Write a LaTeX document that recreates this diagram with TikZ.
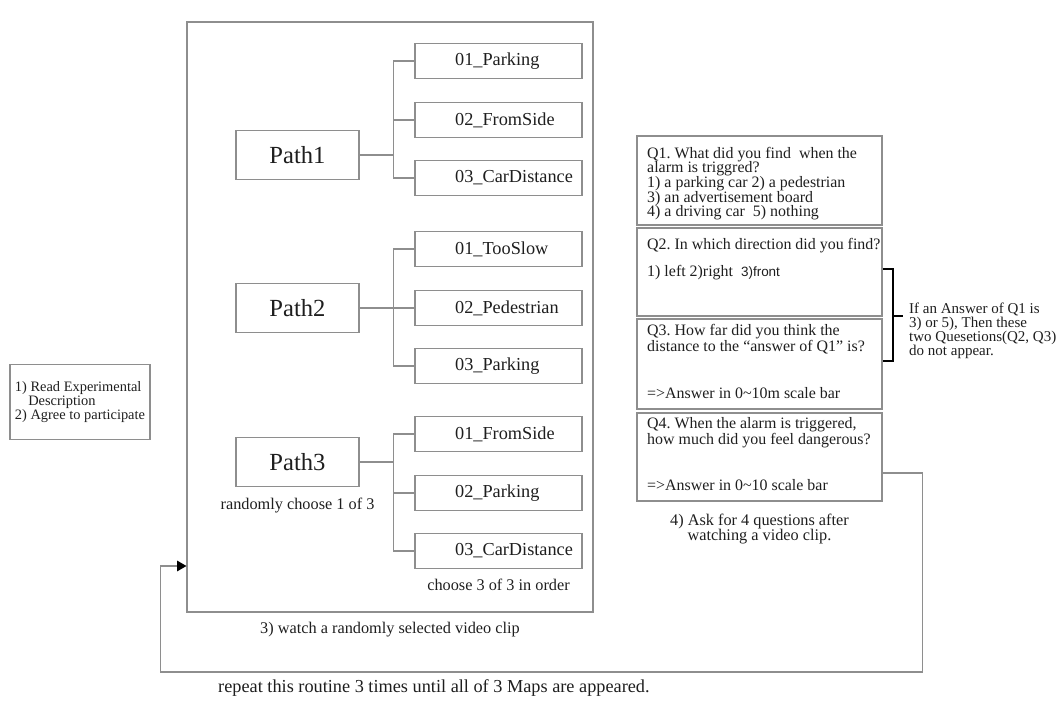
\documentclass[tikz,border=0pt]{standalone}
\usepackage{fontspec}
\setmainfont{Liberation Serif}
\setsansfont{Liberation Sans}
\usepackage{tikz}
\usetikzlibrary{positioning,arrows.meta}
\frenchspacing
\definecolor{boxline}{HTML}{8E8E8E}
\definecolor{ink}{HTML}{1E1E1E}
\newcommand{\cliplabel}[1]{\makebox[2.6cm][l]{#1}}
\tikzset{
  frame/.style={draw=boxline, line width=0.9pt, rectangle, text=ink},
  pathbox/.style={frame, minimum width=3.69cm, minimum height=1.47cm, font=\fontsize{21}{24}\selectfont},
  clipbox/.style={frame, minimum width=5.01cm, minimum height=1.05cm, font=\fontsize{15.6}{18}\selectfont},
  qbox/.style={frame, minimum width=7.35cm, inner sep=0pt},
  qtext/.style={anchor=north west, inner sep=0pt, align=left, text=ink, font=\fontsize{13.6}{12.4}\selectfont},
  caption/.style={inner sep=0pt, align=center, text=ink, font=\fontsize{13.9}{12.8}\selectfont},
  branch/.style={draw=boxline, line width=0.9pt},
  loopline/.style={draw=boxline, line width=1pt, -{Triangle[length=8pt, width=9pt, color=black]}}
}
\begin{document}
\begin{tikzpicture}[x=0.03cm, y=-0.03cm]
  \useasboundingbox (0,0) rectangle (1061,708);

  % step 1
  \node[frame, minimum width=4.2cm, minimum height=2.25cm, align=left, inner sep=0pt,
        font=\fontsize{12.3}{11.6}\selectfont] (intro) at (80,402)
        {1) Read Experimental\\\hspace*{0.4cm}Description\\2) Agree to participate};

  % step 3: video clips
  \node[frame, minimum width=12.18cm, minimum height=17.7cm] (clips) at (390,317) {};
  \node[pathbox] (p1) at (297.5,155) {Path1};
  \node[pathbox] (p2) at (297.5,308) {Path2};
  \node[pathbox] (p3) at (297.5,462) {Path3};

  \node[clipbox] (c11) at (498.5,61)  {\cliplabel{01\_Parking}};
  \node[clipbox] (c12) at (498.5,120) {\cliplabel{02\_FromSide}};
  \node[clipbox] (c13) at (498.5,178) {\cliplabel{03\_CarDistance}};
  \node[clipbox] (c21) at (498.5,249) {\cliplabel{01\_TooSlow}};
  \node[clipbox] (c22) at (498.5,308) {\cliplabel{02\_Pedestrian}};
  \node[clipbox] (c23) at (498.5,366) {\cliplabel{03\_Parking}};
  \node[clipbox] (c31) at (498.5,434) {\cliplabel{01\_FromSide}};
  \node[clipbox] (c32) at (498.5,493) {\cliplabel{02\_Parking}};
  \node[clipbox] (c33) at (498.5,551) {\cliplabel{03\_CarDistance}};

  \foreach \g in {1,2,3} {
    \draw[branch] (p\g.east) -- ++(34,0) coordinate (j\g);
    \draw[branch] (c\g1.west) -| (j\g) |- (c\g3.west);
    \draw[branch] (j\g |- c\g2.west) -- (c\g2.west);
  }

  \node[caption, below=0.32cm of p3] (pick) {randomly choose 1 of 3};
  \node[caption, below=0.3cm of c33] (order) {choose 3 of 3 in order};
  \node[caption, below=0.27cm of clips] (watch) {3) watch a randomly selected video clip};

  % step 4: questions
  \node[qbox, minimum height=2.67cm] (q1) at (759.5,180.5) {};
  \node[qbox, minimum height=2.64cm] (q2) at (759.5,272) {};
  \node[qbox, minimum height=2.7cm]  (q3) at (759.5,364) {};
  \node[qbox, minimum height=2.64cm] (q4) at (759.5,457) {};

  \node[qtext] (q1t) at (647,147) {Q1. What did you find\ \ when the\\alarm is triggred?\\1) a parking car 2) a pedestrian\\3) an advertisement board\\4) a driving car\ \ 5) nothing};
  \node[qtext] (q2t) at (647,238) {Q2. In which direction did you find?};
  \node[qtext, anchor=west] (q2a) at (647,273) {1) left 2)right\ \ {\sffamily\fontsize{11.5}{12}\selectfont 3)front}};
  \node[qtext] (q3t) at (647,324.5) {Q3. How far did you think the\\distance to the “answer of Q1” is?};
  \node[qtext, anchor=west] (q3a) at (647,393) {=>Answer in 0\textasciitilde10m scale bar};
  \node[qtext] (q4t) at (647,417.5) {Q4. When the alarm is triggered,\\how much did you feel dangerous?};
  \node[qtext, anchor=west] (q4a) at (647,485) {=>Answer in 0\textasciitilde10 scale bar};

  \node[caption, below=0.36cm of q4] (ask) {4) Ask for 4 questions after\\watching a video clip.};

  \node[qtext, anchor=west, font=\fontsize{12.8}{11.9}\selectfont] (skip) at (909,331)
    {If an Answer of Q1 is\\3) or 5), Then these\\two Quesetions(Q2, Q3)\\do not appear.};
  \draw[line width=1.1pt] (883,269) -- (893,269) -- (893,361) -- (883,361);
  \draw[line width=1.1pt] (893,316) -- (903,316);

  % repeat loop
  \coordinate (entry) at (clips.west |- 0,566);
  \draw[loopline] ([yshift=-13.6pt]q4.east) -- ++(40,0) |- ++(-762,199) |- (entry);
  \node[caption, anchor=west, font=\fontsize{15.6}{18}\selectfont] (repeat) at (218,688)
    {repeat this routine 3 times until all of 3 Maps are appeared.};
\end{tikzpicture}
\end{document}
